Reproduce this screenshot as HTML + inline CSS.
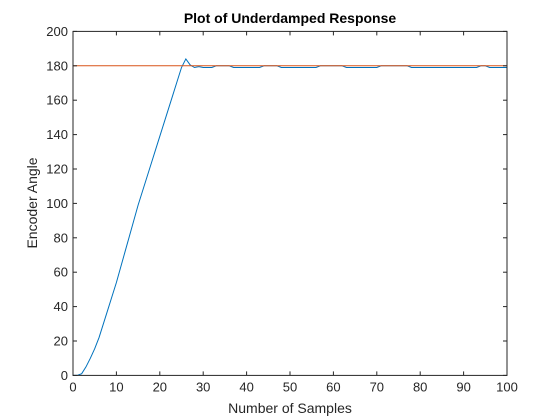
<!DOCTYPE html>
<html><head><meta charset="utf-8"><style>
html,body{margin:0;padding:0;background:#fff;}
svg{display:block;font-family:"Liberation Sans",Arial,sans-serif;}
</style></head><body>
<svg id="chart" width="560" height="420" viewBox="0 0 560 420">
<rect x="0" y="0" width="560" height="420" fill="#fff"/>
<rect x="73" y="31.4" width="434" height="344" fill="#fff"/>
<g id="grid"></g>
<g id="series"></g>
<g id="axes"></g>
<text x="290" y="23" text-anchor="middle" font-size="14" font-weight="bold" fill="#000">Plot of Underdamped Response</text>
<text x="290" y="413" text-anchor="middle" font-size="14" fill="#262626">Number of Samples</text>
<text x="37" y="203" text-anchor="middle" font-size="14" fill="#262626" transform="rotate(-90 37 203)">Encoder Angle</text>
</svg>
<script>
const samples = [0,1,2,3,4,5,6,7,8,9,10,11,12,13,14,15,16,17,18,19,20,21,22,23,24,25,26,27,28,29,30,31,32,33,34,35,36,37,38,39,40,41,42,43,44,45,46,47,48,49,50,51,52,53,54,55,56,57,58,59,60,61,62,63,64,65,66,67,68,69,70,71,72,73,74,75,76,77,78,79,80,81,82,83,84,85,86,87,88,89,90,91,92,93,94,95,96,97,98,99,100];
const angles = [0,0,1,5,10,15.5,22,30,38,46,54,63,72,81,90,99,107,115,123,131,139,147,155,163,171,179,184,180.5,179,179.5,179,179,179,180,180,180,180,179,179,179,179,179,179,179,180,180,180,180,179,179,179,179,179,179,179,179,179,180,180,180,180,180,180,179,179,179,179,179,179,179,179,180,180,180,180,180,180,180,179,179,179,179,179,179,179,179,179,179,179,179,179,179,179,179,180,180,179,179,179,179,179];
const setpoint = [180];
const xTicks = [0,10,20,30,40,50,60,70,80,90,100];
const yTicks = [0,20,40,60,80,100,120,140,160,180,200];
const X0=73,X1=507,Y0=375.4,Y1=31.4;
function sx(v){return X0+(v-0)/(100-0)*(X1-X0);}
function sy(v){return Y0-(v-0)/(200-0)*(Y0-Y1);}
const NS="http://www.w3.org/2000/svg";
const series=document.getElementById('series');
const axes=document.getElementById('axes');
function mk(t,a,p){const e=document.createElementNS(NS,t);for(const k in a)e.setAttribute(k,a[k]);p.appendChild(e);return e;}
// response
let d='';
samples.forEach((s,i)=>{d+=(i?'L':'M')+sx(s).toFixed(2)+' '+sy(angles[i]).toFixed(2);});
const rl=mk('path',{d:d,fill:'none',stroke:'#0072BD','stroke-width':1},series);


// setpoint line
const sp=mk('line',{x1:sx(0),x2:sx(100),y1:sy(setpoint[0]),y2:sy(setpoint[0]),stroke:'#D95319','stroke-width':1},series);


// box
const box=mk('rect',{x:X0,y:Y1,width:X1-X0,height:Y0-Y1,fill:'none',stroke:'#262626','stroke-width':1},axes);


xTicks.forEach(v=>{
  const x=sx(v);
  mk('line',{x1:x,x2:x,y1:Y0,y2:Y0-4,stroke:'#262626'},axes);
  mk('line',{x1:x,x2:x,y1:Y1,y2:Y1+4,stroke:'#262626'},axes);
  const t=mk('text',{x:x,y:Y0+16,'text-anchor':'middle','font-size':13,fill:'#262626'},axes);
  t.textContent=v;
  
  
});
yTicks.forEach(v=>{
  const y=sy(v);
  mk('line',{x1:X0,x2:X0+4,y1:y,y2:y,stroke:'#262626'},axes);
  mk('line',{x1:X1,x2:X1-4,y1:y,y2:y,stroke:'#262626'},axes);
  const t=mk('text',{x:X0-5,y:y+4.5,'text-anchor':'end','font-size':13,fill:'#262626'},axes);
  t.textContent=v;
  
  
});
</script>
</body></html>
